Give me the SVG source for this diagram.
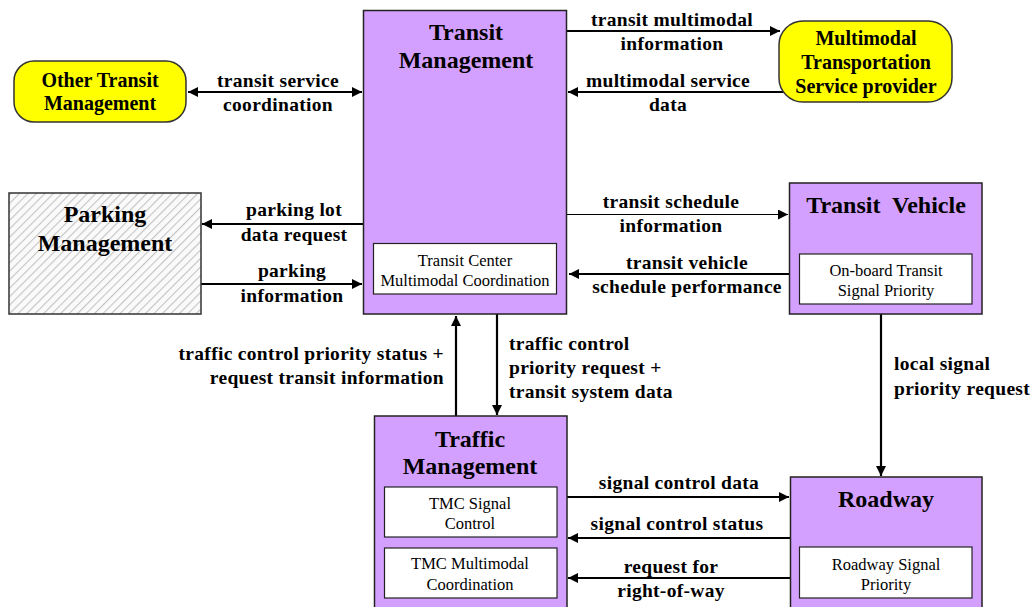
<svg xmlns="http://www.w3.org/2000/svg" width="1034" height="607" viewBox="0 0 1034 607" font-family="Liberation Serif">
  <style>
    text { fill: #000; }
    .box { fill: #D4A0FF; stroke: #222; stroke-width: 1.5; }
    .ext { fill: #FFFF00; stroke: #333; stroke-width: 1.5; }
    .inner { fill: #FFFFFF; stroke: #222; stroke-width: 1.2; }
    .title { font-weight: bold; font-size: 24px; text-anchor: middle; }
    .ext-t { font-weight: bold; font-size: 20px; text-anchor: middle; }
    .sub { font-size: 16.5px; text-anchor: middle; }
    .lbl { font-weight: bold; font-size: 19.5px; text-anchor: middle; letter-spacing: 0.3px; }
    .start { text-anchor: start; }
    .end { text-anchor: end; }
    .flow { stroke: #000; stroke-width: 2.2; fill: none; }
    .thin { stroke: #000; stroke-width: 1; fill: none; }
  </style>
  <defs>
    <marker id="arrow" viewBox="0 0 10 10" refX="10" refY="5" markerWidth="12" markerHeight="10" markerUnits="userSpaceOnUse" orient="auto-start-reverse">
      <path d="M0,0 L10,5 L0,10 z" fill="#000"/>
    </marker>
    <pattern id="hatch" width="6" height="6" patternUnits="userSpaceOnUse" patternTransform="rotate(45)">
      <rect width="6" height="6" fill="#fafafa"/>
      <line x1="0" y1="0" x2="0" y2="6" stroke="#c4c4c4" stroke-width="2.2"/>
    </pattern>
  </defs>

  <rect width="1034" height="607" fill="#fff"/>

  <!-- data flows between the centers -->
  <g id="connectors">
    <line class="flow" x1="188" y1="92" x2="362" y2="92" marker-start="url(#arrow)" marker-end="url(#arrow)"/>
    <line class="flow" x1="567" y1="31" x2="780" y2="31" marker-end="url(#arrow)"/>
    <line class="flow" x1="787" y1="92" x2="568" y2="92" marker-end="url(#arrow)"/>
    <line class="flow" x1="363" y1="224" x2="202" y2="224" marker-end="url(#arrow)"/>
    <line class="flow" x1="201" y1="284" x2="362" y2="284" marker-end="url(#arrow)"/>
    <line class="thin" x1="567" y1="214.5" x2="788" y2="214.5" marker-end="url(#arrow)"/>
    <line class="flow" x1="789" y1="274" x2="569" y2="274" marker-end="url(#arrow)"/>
    <line class="flow" x1="456" y1="416" x2="456" y2="316" marker-end="url(#arrow)"/>
    <line class="flow" x1="497" y1="314" x2="497" y2="415" marker-end="url(#arrow)"/>
    <line class="flow" x1="881" y1="314" x2="881" y2="476" marker-end="url(#arrow)"/>
    <line class="flow" x1="567" y1="497" x2="789" y2="497" marker-end="url(#arrow)"/>
    <line class="flow" x1="790" y1="538" x2="568" y2="538" marker-end="url(#arrow)"/>
    <line class="flow" x1="790" y1="578" x2="568" y2="578" marker-end="url(#arrow)"/>

    <text class="lbl" x="278" y="87">transit service</text>
    <text class="lbl" x="278" y="111">coordination</text>
    <text class="lbl" x="672" y="26">transit multimodal</text>
    <text class="lbl" x="672" y="50">information</text>
    <text class="lbl" x="668" y="87">multimodal service</text>
    <text class="lbl" x="668" y="111">data</text>
    <text class="lbl" x="294" y="216">parking lot</text>
    <text class="lbl" x="294" y="241">data request</text>
    <text class="lbl" x="292" y="277">parking</text>
    <text class="lbl" x="292" y="302">information</text>
    <text class="lbl" x="671" y="208">transit schedule</text>
    <text class="lbl" x="671" y="232">information</text>
    <text class="lbl" x="687" y="269">transit vehicle</text>
    <text class="lbl" x="687" y="293">schedule performance</text>
    <text class="lbl end" x="444" y="360">traffic control priority status +</text>
    <text class="lbl end" x="444" y="384">request transit information</text>
    <text class="lbl start" x="509" y="350">traffic control</text>
    <text class="lbl start" x="509" y="374">priority request +</text>
    <text class="lbl start" x="509" y="398">transit system data</text>
    <text class="lbl start" x="894" y="370">local signal</text>
    <text class="lbl start" x="894" y="395">priority request</text>
    <text class="lbl" x="679" y="489">signal control data</text>
    <text class="lbl" x="677" y="530">signal control status</text>
    <text class="lbl" x="671" y="573">request for</text>
    <text class="lbl" x="671" y="597">right-of-way</text>
  </g>

  <!-- centers -->
  <g id="transit-management">
    <rect class="box" x="363.5" y="10.5" width="203" height="303.5"/>
    <text class="title" x="466" y="40">Transit</text>
    <text class="title" x="466" y="68">Management</text>
    <rect class="inner" x="373.5" y="243.5" width="183" height="50.5"/>
    <text class="sub" x="465" y="266">Transit Center</text>
    <text class="sub" x="465" y="286">Multimodal Coordination</text>
  </g>

  <g id="other-transit-management">
    <rect class="ext" x="14" y="61" width="172" height="61" rx="20" ry="20"/>
    <text class="ext-t" x="100" y="87">Other Transit</text>
    <text class="ext-t" x="100" y="110">Management</text>
  </g>

  <g id="multimodal-provider">
    <rect class="ext" x="779" y="21" width="173" height="81" rx="24" ry="24"/>
    <text class="ext-t" x="866" y="45">Multimodal</text>
    <text class="ext-t" x="866" y="69">Transportation</text>
    <text class="ext-t" x="866" y="93">Service provider</text>
  </g>

  <g id="parking-management">
    <rect x="9" y="193" width="192" height="121" fill="url(#hatch)" stroke="#333" stroke-width="1.5"/>
    <text class="title" x="105" y="222">Parking</text>
    <text class="title" x="105" y="251">Management</text>
  </g>

  <g id="transit-vehicle">
    <rect class="box" x="789.5" y="183" width="192.5" height="131"/>
    <text class="title" x="886" y="213" xml:space="preserve">Transit  Vehicle</text>
    <rect class="inner" x="799.5" y="254" width="172.5" height="50"/>
    <text class="sub" x="886" y="276">On-board Transit</text>
    <text class="sub" x="886" y="296">Signal Priority</text>
  </g>

  <g id="traffic-management">
    <rect class="box" x="374.5" y="416" width="192.5" height="200"/>
    <text class="title" x="470" y="447">Traffic</text>
    <text class="title" x="470" y="474">Management</text>
    <rect class="inner" x="384.5" y="487" width="172.5" height="50"/>
    <text class="sub" x="470" y="509">TMC Signal</text>
    <text class="sub" x="470" y="529">Control</text>
    <rect class="inner" x="384.5" y="548" width="172.5" height="50"/>
    <text class="sub" x="470" y="569">TMC Multimodal</text>
    <text class="sub" x="470" y="590">Coordination</text>
  </g>

  <g id="roadway">
    <rect class="box" x="790.5" y="477" width="191.5" height="140"/>
    <text class="title" x="886" y="507">Roadway</text>
    <rect class="inner" x="799.5" y="547" width="172.5" height="51"/>
    <text class="sub" x="886" y="570">Roadway Signal</text>
    <text class="sub" x="886" y="590">Priority</text>
  </g>
</svg>
